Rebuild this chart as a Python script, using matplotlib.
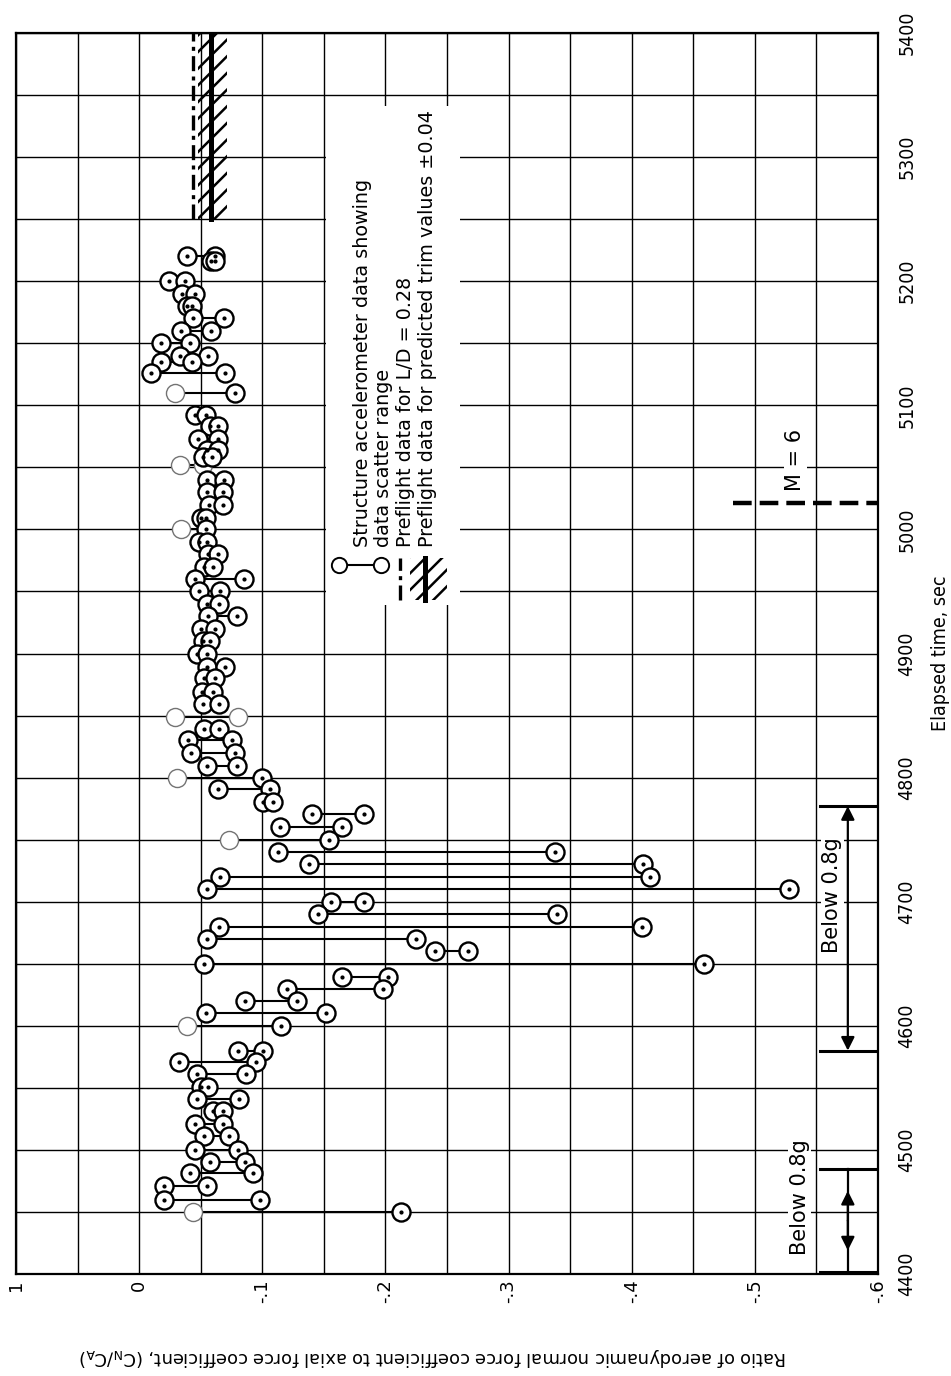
import numpy as np
import matplotlib
matplotlib.use("Agg")
import matplotlib.pyplot as plt
from matplotlib.patches import Rectangle

plt.rcParams['hatch.linewidth'] = 1.8

# ---------------- data ----------------
time_s = [5220, 5216, 5200, 5190, 5180, 5170, 5160, 5150, 5140, 5135,
          5126, 5110, 5092, 5083, 5073, 5064, 5058, 5052, 5040, 5030,
          5020, 5009, 5000, 4990, 4980, 4970, 4960, 4950, 4940, 4930,
          4920, 4910, 4900, 4889, 4880, 4869, 4859, 4849, 4839, 4830,
          4820, 4809, 4800, 4791, 4780, 4771, 4760, 4750, 4740, 4730,
          4720, 4710, 4700, 4690, 4680, 4670, 4660, 4650, 4639, 4630,
          4620, 4610, 4600, 4580, 4571, 4561, 4551, 4541, 4531, 4521,
          4511, 4500, 4490, 4481, 4471, 4460, 4450]
ratio_a = [-0.039, -0.058, -0.024, -0.0345, -0.039, -0.044, -0.034, -0.018, -0.033, -0.0175,
           -0.010, -0.029, -0.045, -0.0575, -0.048, -0.055, -0.052, -0.033, -0.055, -0.055,
           -0.057, -0.050, -0.034, -0.049, -0.056, -0.053, -0.045, -0.049, -0.055, -0.056,
           -0.050, -0.052, -0.047, -0.055, -0.053, -0.051, -0.052, -0.029, -0.053, -0.040,
           -0.0425, -0.055, -0.0305, -0.064, -0.1006, -0.140, -0.114, -0.073, -0.113, -0.138,
           -0.0655, -0.055, -0.156, -0.145, -0.065, -0.055, -0.240, -0.053, -0.165, -0.120,
           -0.086, -0.054, -0.039, -0.080, -0.032, -0.047, -0.050, -0.047, -0.060, -0.045,
           -0.053, -0.045, -0.0575, -0.041, -0.020, -0.020, -0.044]
ratio_b = [-0.062, -0.0615, -0.037, -0.045, -0.043, -0.069, -0.058, -0.041, -0.056, -0.043,
           -0.070, -0.078, -0.054, -0.064, -0.064, -0.064, -0.059, -0.052, -0.069, -0.068,
           -0.068, -0.054, -0.054, -0.055, -0.064, -0.060, -0.085, -0.0655, -0.065, -0.0795,
           -0.062, -0.0575, -0.055, -0.070, -0.0615, -0.060, -0.065, -0.080, -0.065, -0.0755,
           -0.078, -0.0795, -0.100, -0.1066, -0.109, -0.183, -0.1645, -0.1545, -0.338, -0.409,
           -0.415, -0.528, -0.183, -0.339, -0.408, -0.225, -0.267, -0.459, -0.202, -0.198,
           -0.128, -0.152, -0.115, -0.1006, -0.095, -0.087, -0.056, -0.081, -0.068, -0.068,
           -0.073, -0.080, -0.086, -0.0925, -0.055, -0.0985, -0.213]
# 's' = accelerometer point, 'f' = faint point
kind_a = ['s', 's', 's', 's', 's', 's', 's', 's', 's', 's',
          's', 'f', 's', 's', 's', 's', 's', 'f', 's', 's',
          's', 's', 'f', 's', 's', 's', 's', 's', 's', 's',
          's', 's', 's', 's', 's', 's', 's', 'f', 's', 's',
          's', 's', 'f', 's', 's', 's', 's', 'f', 's', 's',
          's', 's', 's', 's', 's', 's', 's', 's', 's', 's',
          's', 's', 'f', 's', 's', 's', 's', 's', 's', 's',
          's', 's', 's', 's', 's', 's', 'f']
kind_b = ['s'] * 17 + ['f'] + ['s'] * 19 + ['f'] + ['s'] * 39

xtick_vals = [0.1, 0.0, -0.1, -0.2, -0.3, -0.4, -0.5, -0.6]
xtick_text = ["1", "0", "-.1", "-.2", "-.3", "-.4", "-.5", "-.6"]
ytick_vals = [4400, 4500, 4600, 4700, 4800, 4900, 5000, 5100, 5200, 5300, 5400]

ld_ratio = -0.044            # preflight L/D = 0.28
trim_ratio = -0.058          # preflight predicted trim
trim_band = (-0.048, -0.071)
preflight_time = (5250, 5400)
mach6_time = 5021
below_a = (4402, 4485)
below_b = (4580, 4777)

# ---------------- figure ----------------
W, H = 951, 1376
fig = plt.figure(figsize=(W / 100, H / 100), dpi=100)
L, R, T, B = 16, 878, 33, 1274
ax = fig.add_axes([L / W, 1 - B / H, (R - L) / W, (B - T) / H])
ax.set_xlim(0.1, -0.6)
ax.set_ylim(4400, 5400)

# grid
for v in np.arange(0.1, -0.6001, -0.05):
    ax.axvline(v, color='k', lw=1.0, zorder=1)
for t in np.arange(4400, 5401, 50):
    ax.axhline(t, color='k', lw=1.0, zorder=1)
for s in ax.spines.values():
    s.set_linewidth(1.6)

# legend blank area
ax.add_patch(Rectangle((-0.152, 4939), -0.1086, 5341 - 4939, facecolor='white',
                       edgecolor='none', zorder=2))

# data
for t, a, b, ka, kb in zip(time_s, ratio_a, ratio_b, kind_a, kind_b):
    ax.plot([a, b], [t, t], color='k', lw=1.5, zorder=3, solid_capstyle='butt')
    for v, k in ((a, ka), (b, kb)):
        if k == 'f':
            ax.plot(v, t, 'o', ms=13, mfc='white', mec='0.45', mew=1.0, zorder=4)
        else:
            ax.plot(v, t, 'o', ms=13, mfc='white', mec='k', mew=1.7, zorder=5)
            ax.plot(v, t, 'o', ms=2.0, color='k', zorder=6)

# preflight lines
ax.fill_betweenx(preflight_time, trim_band[0], trim_band[1], facecolor='none',
                 edgecolor='k', hatch='//', lw=0, zorder=3)
ax.plot([trim_ratio, trim_ratio], preflight_time, color='k', lw=3.6, zorder=4)
ax.plot([ld_ratio, ld_ratio], preflight_time, color='k', lw=2.4, zorder=4,
        dashes=(4.5, 1.6, 1.2, 1.6))

# M = 6
ax.plot([-0.482, -0.6], [mach6_time, mach6_time], color='k', lw=3.2,
        dashes=(4.2, 1.8), zorder=4)
ax.text(-0.533, 5056, "M = 6", rotation=90, ha='center', va='center',
        fontsize=15, zorder=5, bbox=dict(facecolor='white', edgecolor='none', pad=1))

# Below 0.8 g
xa = -0.5755
ax.plot([xa, xa], below_a, color='k', lw=1.6, zorder=5)
ax.annotate('', xy=(xa, below_a[1] - 18), xytext=(xa, 4443),
            arrowprops=dict(arrowstyle='-|>', lw=1.6, color='k',
                            mutation_scale=20, shrinkA=0, shrinkB=0), zorder=5)
ax.annotate('', xy=(xa, below_a[0] + 17), xytext=(xa, 4443),
            arrowprops=dict(arrowstyle='-|>', lw=1.6, color='k',
                            mutation_scale=20, shrinkA=0, shrinkB=0), zorder=5)
ax.annotate('', xy=(xa, below_b[1]), xytext=(xa, below_b[0]),
            arrowprops=dict(arrowstyle='<|-|>', lw=1.6, color='k',
                            mutation_scale=20, shrinkA=0, shrinkB=0), zorder=5)
for tb in below_a + below_b:
    ax.plot([-0.553, -0.6], [tb, tb], color='k', lw=2.2, zorder=5)
for xt, tt in ((-0.5365, 4462), (-0.563, 4705)):
    ax.text(xt, tt, "Below 0.8g", rotation=90, ha='center', va='center',
            fontsize=15, zorder=5,
            bbox=dict(facecolor='white', edgecolor='none', pad=1))

# legend
ax.plot([-0.162, -0.196], [4971, 4971], color='k', lw=1.5, zorder=5)
ax.plot([-0.162, -0.196], [4971, 4971], 'o', ms=11, mfc='white', mec='k', mew=1.4, zorder=6)
ax.plot([-0.212, -0.212], [4943, 4977], color='k', lw=2.4, dashes=(4.5, 1.6, 1.2, 1.6), zorder=5)
ax.fill_betweenx([4943, 4977], -0.220, -0.250, facecolor='none', edgecolor='k',
                 hatch='//', lw=0, zorder=5)
ax.plot([-0.232, -0.232], [4943, 4977], color='k', lw=3.6, zorder=5)
leg_lines = ["Structure accelerometer data showing", "data scatter range",
             "Preflight data for L/D = 0.28",
             "Preflight data for predicted trim values \u00b10.04"]
for i, s in enumerate(leg_lines):
    ax.text(-0.181 - 0.0177 * i, 4986, s, rotation=90, ha='center', va='bottom',
            fontsize=13.8, zorder=6)

# ticks
ax.set_xticks(xtick_vals)
ax.set_xticklabels(xtick_text, rotation=90, fontsize=13)
ax.tick_params(axis='x', length=0, pad=4)
ax.yaxis.tick_right()
ax.set_yticks(ytick_vals)
ax.set_yticklabels([str(v) for v in ytick_vals], rotation=90, va='center',
                   fontsize=14, fontstretch='condensed')
ax.tick_params(axis='y', length=0, pad=14)

fig.text(433 / W, 1 - 1357 / H,
         "Ratio of aerodynamic normal force coefficient to axial force coefficient, "
         r"(C$_\mathregular{N}$/C$_\mathregular{A}$)",
         rotation=180, ha='center', va='center', fontsize=12.9)
fig.text(940 / W, 1 - 653 / H, "Elapsed time, sec", rotation=90, ha='center',
         va='center', fontsize=14, fontstretch='condensed')

fig.savefig("out.png", dpi=100)
